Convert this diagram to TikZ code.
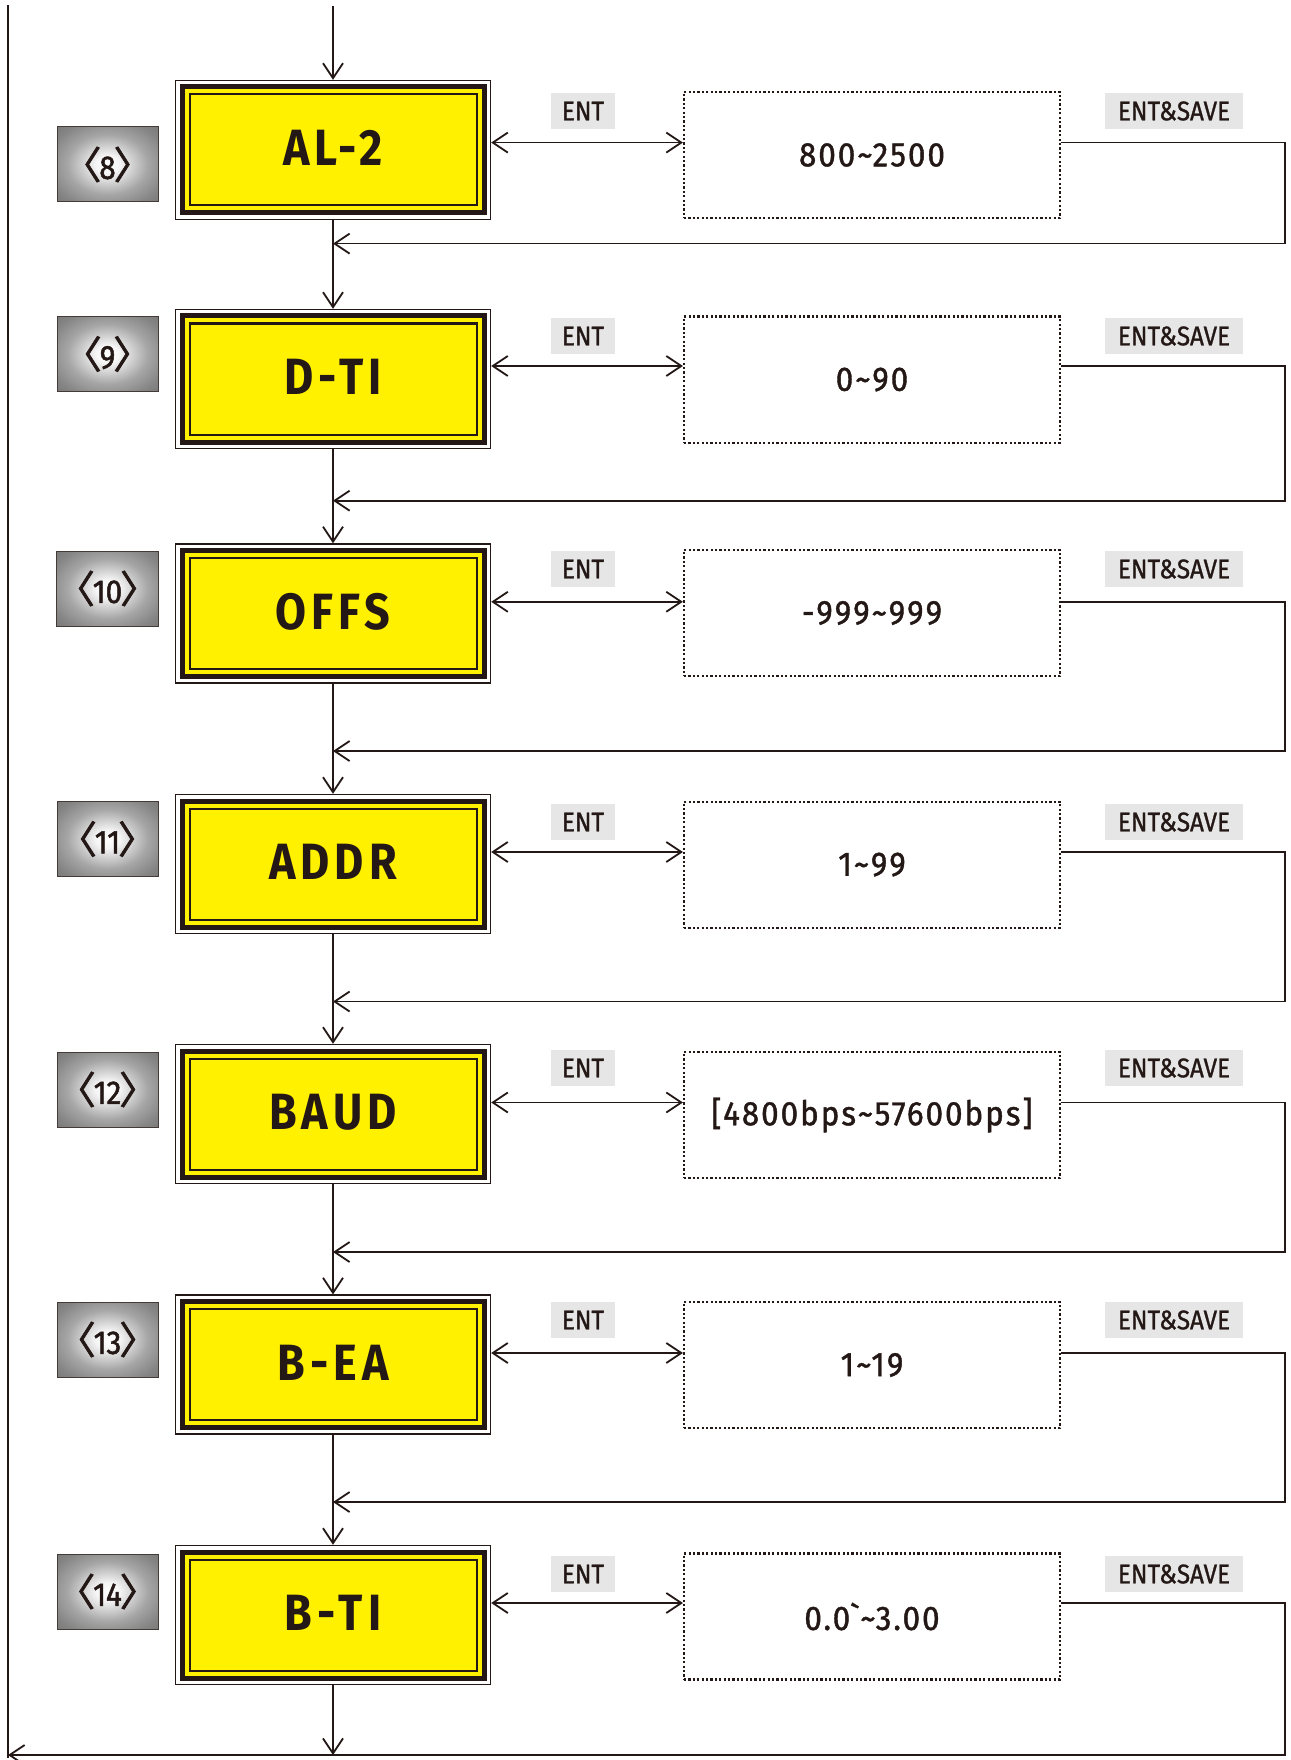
\documentclass[tikz,border=0pt]{standalone}
\usepackage{fontspec}
\setmainfont{Fira Sans}
\newfontfamily\boxfont[LetterSpace=10,FakeStretch=0.88]{Fira Sans}
\newfontfamily\numfont[LetterSpace=6,FakeStretch=0.92,FakeBold=1.2]{Fira Sans}
\newfontfamily\condfont[FakeStretch=0.9,FakeBold=1]{Fira Sans}
\newfontfamily\lblfont[FakeStretch=0.9,FakeBold=1.5]{Fira Sans}
\newfontfamily\cjk[FakeBold=2]{Noto Sans CJK SC}
\usetikzlibrary{arrows.meta}
\definecolor{ink}{HTML}{231815}
\definecolor{yel}{HTML}{FFF100}
\definecolor{entbg}{HTML}{E6E6E6}
\pgfdeclareradialshading{lblshade}{\pgfpoint{0bp}{0bp}}{color(0bp)=(white); color(6bp)=(white!96!black); color(20bp)=(black!35); color(30bp)=(black!48); color(38bp)=(black!54); color(50bp)=(black!60)}
\tikzset{
  barb/.tip={Straight Barb[length=15pt,width=20pt]},
  ln/.style={draw=ink, line width=1.8pt},
  tipline/.style={ln, -barb},
  dbl/.style={ln, barb-barb},
  ybox/.style={rectangle, draw=ink, line width=1.4pt, fill=white,
    minimum width=315pt, minimum height=139pt, inner sep=0pt,
    path picture={
      \fill[yel] ([shift={(6.5pt,-6.5pt)}]path picture bounding box.north west) rectangle ([shift={(-6.5pt,6.5pt)}]path picture bounding box.south east);
      \draw[ink,line width=5pt] ([shift={(6.5pt,-6.5pt)}]path picture bounding box.north west) rectangle ([shift={(-6.5pt,6.5pt)}]path picture bounding box.south east);
      \draw[ink,line width=2pt] ([shift={(14pt,-14pt)}]path picture bounding box.north west) rectangle ([shift={(-14pt,14pt)}]path picture bounding box.south east);
    }},
  ytext/.style={text=ink, font=\boxfont\bfseries\fontsize{51}{51}\selectfont, inner sep=0pt},
  lbl/.style={rectangle, draw=ink!85, line width=1pt, shading=lblshade,
    minimum width=101pt, minimum height=75pt, inner sep=0pt, text=ink,
    font=\lblfont\fontsize{33}{33}\selectfont},
  entlbl/.style={rectangle, fill=entbg, minimum height=36pt, inner sep=0pt,
    text=ink, font=\condfont\fontsize{27}{27}\selectfont},
  dbox/.style={rectangle, draw=ink, line width=2.2pt, dash pattern=on 2.2pt off 2.2pt,
    minimum width=376pt, minimum height=126pt, inner sep=0pt, text=ink,
    font=\numfont\fontsize{34}{34}\selectfont},
}
\newcommand\lb[1]{{\cjk\fontsize{38}{38}\selectfont〈}\kern-2pt#1\kern-2pt{\cjk\fontsize{38}{38}\selectfont〉}}
\begin{document}
\begin{tikzpicture}[x=1pt,y=-1pt]
\useasboundingbox (0,0) rectangle (1290,1760);
\fill[white] (0,0) rectangle (1290,1760);
\coordinate (top) at (333,6);
\coordinate (lefttop) at (8,5);
\coordinate (leftbot) at (8,1755);
\foreach \i/\n/\yb/\yd/\ye/\yl/\ya/\yr/\nm/\vl in {
  1/8/150/155/111/164.5/142.6/243.6/AL-2/800\textasciitilde 2500,
  2/9/379/379.6/336/354/366/500.7/D-TI/0\textasciitilde 90,
  3/10/613.5/613/569/588.5/601.8/751/OFFS/-999\textasciitilde 999,
  4/11/864/864.6/822/839/852/1001.5/ADDR/1\textasciitilde 99,
  5/12/1114/1115/1068/1089.5/1102.5/1252/BAUD/[4800bps\textasciitilde 57600bps],
  6/13/1364.6/1365/1320/1339.5/1353/1502/B-EA/1\textasciitilde 19,
  7/14/1615/1616.5/1574/1591.5/1603/1755/B-TI/0.0\textasciigrave\textasciitilde 3.00}{
  \node[ybox] (b\i) at (333,\yb) {};
  \node[ytext] (t\i) at (333,\yb-2) {\nm};
  \node[lbl] (l\i) at (107.5,\yl) {\lb{\n}};
  \node[dbox] (d\i) at (872,\yd) {\vl};
  \node[entlbl, minimum width=64pt] (e\i) at (583,\ye) {ENT};
  \node[entlbl, minimum width=138pt] (s\i) at (1174,\ye) {ENT\&SAVE};
  \coordinate (a\i) at (0,\ya);
  \coordinate (rr\i) at (1285,\yr);
  \draw[dbl] (b\i.east |- a\i) -- (d\i.west |- a\i);
}
\foreach \i in {1,...,6}{
  \pgfmathtruncatemacro\j{\i+1}
  \draw[tipline] (d\i.east |- a\i) -| (rr\i) -- (b\i.south |- rr\i);
  \draw[tipline] (b\i.south) -- (b\j.north);
}
\draw[tipline] (top) -- (b1.north);
\draw[tipline] (b7.south) -- (b7.south |- leftbot);
\draw[tipline] (d7.east |- a7) -| (rr7) -- (leftbot);
\draw[ln] (lefttop) -- (8,1758);
\end{tikzpicture}
\end{document}
